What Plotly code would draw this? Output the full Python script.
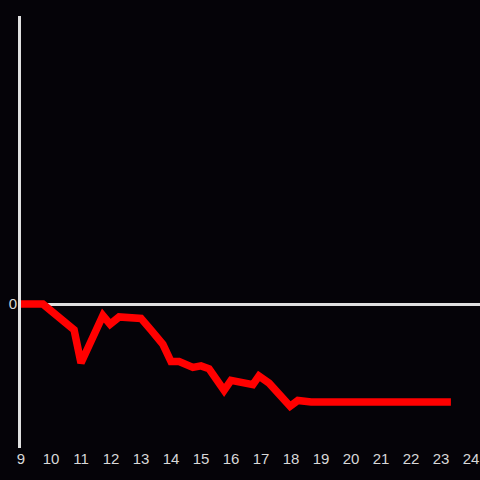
import plotly.graph_objects as go

hours = [9.0, 9.73, 10.77, 11.0, 11.73, 11.97, 12.27, 13.0, 13.33, 13.73, 14.0, 14.27,
         14.73, 15.0, 15.27, 15.77, 16.0, 16.27, 16.73, 16.93, 17.27, 17.97, 18.23, 18.67, 23.33]
values = [0.0, 0.0, -0.18, -0.41, -0.08, -0.14, -0.09, -0.10, -0.18, -0.28, -0.40, -0.40,
          -0.44, -0.43, -0.45, -0.60, -0.53, -0.54, -0.56, -0.50, -0.55, -0.71, -0.67, -0.68, -0.68]

bg = "#050308"
fig = go.Figure(go.Scatter(x=hours, y=values, mode="lines",
                           line=dict(color="#ff0000", width=7.5)))
fig.update_layout(
    width=480, height=480,
    paper_bgcolor=bg, plot_bgcolor=bg,
    margin=dict(l=21, r=0, t=16, b=32),
    showlegend=False,
    font=dict(family="Liberation Sans, Arial, sans-serif", size=15, color="#d8d8d8"),
)
fig.update_xaxes(range=[9, 24.3], tickvals=list(range(9, 25)), showgrid=False,
                 zeroline=False, showline=False, ticks="", ticklen=0)
fig.update_yaxes(range=[-1, 2], tickvals=[0], showgrid=False, zeroline=True,
                 zerolinecolor="#e0e0e0", zerolinewidth=3, showline=True,
                 linecolor="#e0e0e0", linewidth=3, ticks="", ticklen=0,
                 ticklabelstandoff=-2)
fig.write_html("out.html", config={"displayModeBar": False},
               post_script="document.body.style.margin='0';document.body.style.background='%s';" % bg)
